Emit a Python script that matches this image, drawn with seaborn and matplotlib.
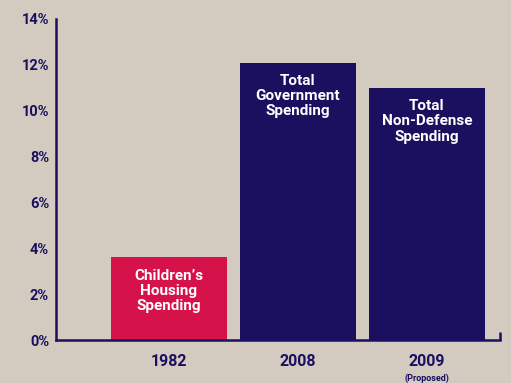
import matplotlib
matplotlib.use("Agg")
import matplotlib.pyplot as plt
import seaborn as sns
import pandas as pd

# Spending growth data
years = ["1982", "2008", "2009"]
values = [3.6, 12.1, 11.0]
bar_labels = ["Children\u2019s\nHousing\nSpending",
              "Total\nGovernment\nSpending",
              "Total\nNon-Defense\nSpending"]
y_ticks = [0, 2, 4, 6, 8, 10, 12, 14]
y_tick_labels = ["0%", "2%", "4%", "6%", "8%", "10%", "12%", "14%"]
sub_note = "(Proposed)"

BG = "#D3CBC0"
NAVY = "#1B1060"
RED = "#D5124A"
bar_colors = [RED, NAVY, NAVY]

sns.set_theme(style="white")
plt.rcParams["font.family"] = ["Roboto", "DejaVu Sans"]

df = pd.DataFrame({"year": years, "value": values})

fig = plt.figure(figsize=(5.11, 3.83), dpi=100, facecolor=BG)
ax = fig.add_axes([56 / 511, 1 - 340 / 383, 444 / 511, 321 / 383])
ax.set_facecolor(BG)

sns.barplot(data=df, x="year", y="value", hue="year", palette=bar_colors,
            width=0.9, legend=False, ax=ax, saturation=1, linewidth=0)

ax.set_ylim(0, 14)
ax.set_xlim(-0.876, 2.566)
ax.set_yticks(y_ticks)
ax.set_yticklabels(y_tick_labels)
ax.set_xlabel("")
ax.set_ylabel("")

for side in ["top", "right"]:
    ax.spines[side].set_visible(False)
for side in ["left", "bottom"]:
    ax.spines[side].set_color(NAVY)
    ax.spines[side].set_linewidth(1.8)

ax.tick_params(axis="y", direction="in", length=9.5, width=1.8, color=NAVY,
               labelcolor=NAVY, labelsize=10.5, pad=5)
ax.tick_params(axis="x", length=0, labelcolor=NAVY, labelsize=11.5, pad=10)
for lab in ax.get_yticklabels() + ax.get_xticklabels():
    lab.set_fontweight("bold")

# small end cap on the baseline
ax.plot([1, 1], [0, 0.025], transform=ax.transAxes, color=NAVY,
        lw=1.8, clip_on=False, solid_capstyle="butt")

# labels inside the bars
for i, (v, txt) in enumerate(zip(values, bar_labels)):
    ax.annotate(txt, xy=(i, v), xytext=(0, -8), textcoords="offset points",
                ha="center", va="top", color="white", fontsize=11,
                fontweight="bold", linespacing=1.12)

ax.annotate(sub_note, xy=(2, 0), xycoords=("data", "axes fraction"),
            xytext=(0, -27.5), textcoords="offset points", ha="center",
            va="center", color=NAVY, fontsize=6.5, fontweight="bold")

fig.savefig("out.png", dpi=100, facecolor=BG)
